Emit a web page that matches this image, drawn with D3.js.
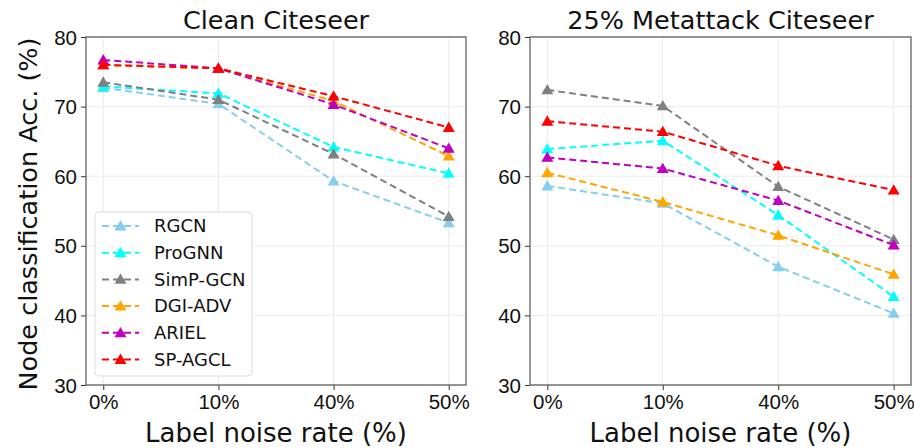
<!DOCTYPE html>
<html>
<head>
<meta charset="utf-8">
<script src="https://cdn.jsdelivr.net/npm/d3@7"></script>
<style>
  body { margin: 0; background: #fff; }
  svg { display: block; font-family: "DejaVu Sans", sans-serif; }
</style>
</head>
<body>
<svg id="chart" width="914" height="448"></svg>
<script>
const categories = ["0%", "10%", "40%", "50%"];
const seriesNames = ["RGCN", "ProGNN", "SimP-GCN", "DGI-ADV", "ARIEL", "SP-AGCL"];
const seriesColors = ["#87CEEB", "#00FFFF", "#808080", "#FFA500", "#BF00BF", "#FF0000"];
const yTicks = [30, 40, 50, 60, 70, 80];
const panelTitles = ["Clean Citeseer", "25% Metattack Citeseer"];

// Clean Citeseer
const cleanRGCN    = [72.7, 70.4, 59.3, 53.3];
const cleanProGNN  = [72.9, 71.9, 64.2, 60.4];
const cleanSimPGCN = [73.5, 71.0, 63.2, 54.2];
const cleanDGIADV  = [76.0, 75.5, 70.8, 62.9];
const cleanARIEL   = [76.7, 75.5, 70.3, 64.0];
const cleanSPAGCL  = [76.0, 75.5, 71.5, 67.0];

// 25% Metattack Citeseer
const metaRGCN    = [58.6, 56.1, 47.0, 40.3];
const metaProGNN  = [63.9, 65.1, 54.4, 42.7];
const metaSimPGCN = [72.4, 70.1, 58.5, 50.9];
const metaDGIADV  = [60.5, 56.3, 51.5, 45.9];
const metaARIEL   = [62.7, 61.1, 56.5, 50.1];
const metaSPAGCL  = [67.9, 66.4, 61.5, 58.0];

const panelData = [
  [cleanRGCN, cleanProGNN, cleanSimPGCN, cleanDGIADV, cleanARIEL, cleanSPAGCL],
  [metaRGCN, metaProGNN, metaSimPGCN, metaDGIADV, metaARIEL, metaSPAGCL]
];

const svg = d3.select("#chart");
const panels = [
  { left: 86, right: 466 },
  { left: 530, right: 911 }
];
const plotTop = 37, plotBottom = 385;

const tri = d3.symbol().type(d3.symbolTriangle).size(62);

panels.forEach((p, pi) => {
  const xi = d3.scaleLinear().domain([-0.15, 3.15]).range([p.left, p.right]);
  const xp = c => xi(categories.indexOf(c));
  const y = d3.scaleLinear().domain([30, 80]).range([plotBottom, plotTop]);

  const g = svg.append("g");

  // grid
  g.append("g").selectAll("line").data(categories).join("line")
    .attr("x1", d => xp(d)).attr("x2", d => xp(d))
    .attr("y1", plotTop).attr("y2", plotBottom)
    .attr("stroke", "#ebebeb").attr("stroke-width", 1);
  g.append("g").selectAll("line").data(yTicks).join("line")
    .attr("x1", p.left).attr("x2", p.right)
    .attr("y1", d => y(d)).attr("y2", d => y(d))
    .attr("stroke", "#ebebeb").attr("stroke-width", 1);

  // axes
  const yAxis = d3.axisLeft(y).tickValues(yTicks).tickSize(5).tickPadding(4);
  const yg = g.append("g").attr("transform", `translate(${p.left},0)`).call(yAxis);
  yg.select(".domain").remove();
  yg.selectAll("text").attr("font-size", 20.5).attr("fill", "#111").attr("dy", "0.35em");
  yg.selectAll("line").attr("stroke", "#333");

  const xAxis = d3.axisBottom(xi).tickValues([0, 1, 2, 3]).tickFormat(i => categories[i]).tickSize(5).tickPadding(4);
  const xg = g.append("g").attr("transform", `translate(0,${plotBottom})`).call(xAxis);
  xg.select(".domain").remove();
  xg.selectAll("text").attr("font-size", 20.5).attr("fill", "#111").attr("dy", "0.75em");
  xg.selectAll("line").attr("stroke", "#333");

  // frame
  g.append("rect").attr("x", p.left).attr("y", plotTop)
    .attr("width", p.right - p.left).attr("height", plotBottom - plotTop)
    .attr("fill", "none").attr("stroke", "#555").attr("stroke-width", 1.2);

  // series
  const line = d3.line().x((d, i) => xp(categories[i])).y(d => y(d));
  panelData[pi].forEach((vals, si) => {
    const sg = g.append("g");
    sg.append("path").datum(vals).attr("d", line)
      .attr("fill", "none").attr("stroke", seriesColors[si])
      .attr("stroke-width", 2).attr("stroke-dasharray", "7,4");
    sg.selectAll("path.m").data(vals).join("path").attr("class", "m")
      .attr("d", tri)
      .attr("transform", (d, i) => `translate(${xp(categories[i])},${y(d) + 1})`)
      .attr("fill", seriesColors[si]);
  });

  // title
  svg.append("text").attr("x", (p.left + p.right) / 2).attr("y", 29)
    .attr("text-anchor", "middle").attr("font-size", 25.5).attr("fill", "#111")
    .text(panelTitles[pi]);

  // x label
  svg.append("text").attr("x", (p.left + p.right) / 2).attr("y", 442)
    .attr("text-anchor", "middle").attr("font-size", 26).attr("fill", "#111")
    .text("Label noise rate (%)");

  // legend in first panel
  if (pi === 0) {
    const lg = svg.append("g");
    lg.append("rect").attr("x", 95).attr("y", 212).attr("width", 157).attr("height", 164)
      .attr("rx", 4).attr("fill", "#fff").attr("fill-opacity", 0.85)
      .attr("stroke", "#ddd").attr("stroke-width", 1);
    const ly = d3.scaleLinear().domain([0, 5]).range([226, 359.5]);
    seriesNames.forEach((name, si) => {
      const yy = ly(si);
      lg.append("line").attr("x1", 102).attr("x2", 139).attr("y1", yy).attr("y2", yy)
        .attr("stroke", seriesColors[si]).attr("stroke-width", 2).attr("stroke-dasharray", "7,4");
      lg.append("path").attr("d", tri).attr("transform", `translate(120.5,${yy + 1})`)
        .attr("fill", seriesColors[si]);
      lg.append("text").attr("x", 154).attr("y", yy).attr("dy", "0.35em")
        .attr("font-size", 18).attr("fill", "#111").text(name);
    });
  }
});

// y label
svg.append("text")
  .attr("transform", "translate(37,214) rotate(-90)")
  .attr("text-anchor", "middle").attr("font-size", 25.5).attr("fill", "#111")
  .text("Node classification Acc. (%)");
</script>
</body>
</html>
